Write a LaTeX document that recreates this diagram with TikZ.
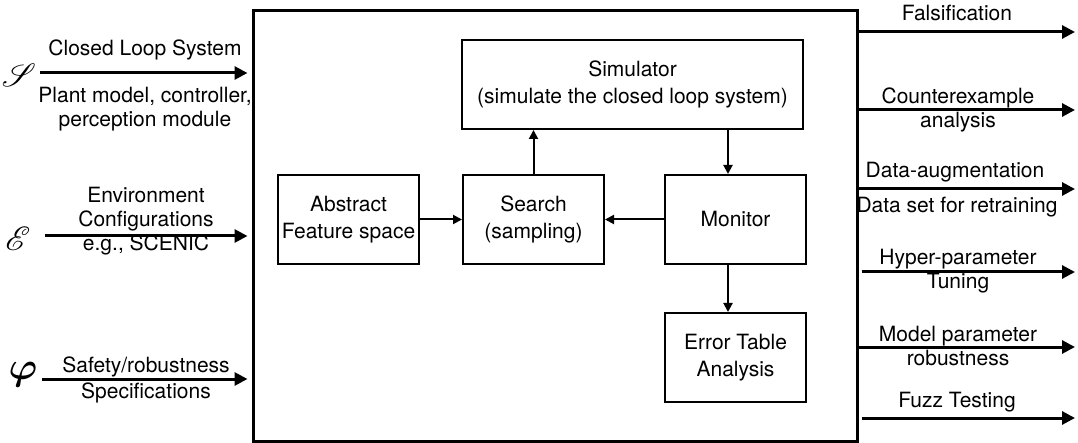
\documentclass[tikz,border=0pt]{standalone}
\usepackage{fontspec}
\setmainfont{TeX Gyre Heros}
\usepackage{mathrsfs}
\usepackage{bm}
\usetikzlibrary{arrows.meta}
\begin{document}
\begin{tikzpicture}[x=1pt,y=-1pt,
  box/.style={draw, line width=2pt, inner sep=0pt, align=center, font=\fontsize{21}{26.5}\selectfont},
  lbl/.style={align=center, inner sep=0pt, font=\fontsize{21}{24}\selectfont},
  sym/.style={inner sep=0pt, font=\fontsize{24.88}{26}\selectfont},
  bigarrow/.style={line width=3pt, -{Triangle[length=13pt,width=13pt]}},
  smallarrow/.style={line width=2pt, -{Triangle[length=9pt,width=9pt]}}]
\useasboundingbox (0,0) rectangle (1078,443);
\node[draw, line width=3pt, minimum width=604pt, minimum height=430pt, inner sep=0pt] (main) at (555,226) {};
% inner boxes
\node[box, minimum width=341pt, minimum height=89pt] (sim) at (632.5,84.5) {Simulator\\(simulate the closed loop system)};
\node[box, minimum width=141pt, minimum height=89pt] (abs) at (348.5,219.5) {Abstract\\Feature space};
\node[box, minimum width=141pt, minimum height=89pt] (srch) at (533.5,219.5) {Search\\(sampling)};
\node[box, minimum width=141pt, minimum height=89pt] (mon) at (735.5,219.5) {Monitor};
\node[box, minimum width=141pt, minimum height=89pt] (err) at (735.5,357.5) {Error Table\\Analysis};
% inner arrows
\draw[smallarrow] (abs.east) -- (srch.west);
\draw[smallarrow] (mon.west) -- (srch.east);
\draw[smallarrow] (srch.north) -- (sim.south -| srch.north);
\coordinate (mtop) at ([xshift=-7.5pt]mon.north);
\coordinate (mbot) at ([xshift=-7.5pt]mon.south);
\draw[smallarrow] (sim.south -| mtop) -- (mtop);
\draw[smallarrow] (mbot) -- (err.north -| mbot);
% left inputs
\node[sym] (S) at (19,75) {\scalebox{1.3}{$\mathscr{S}$}};
\node[sym] (E) at (18,239) {\scalebox{1.35}{$\mathscr{E}$}};
\node[sym] (phi) at (23,375) {\scalebox{1.55}{$\bm{\varphi}$}};
\coordinate (sS) at (40,73);
\coordinate (sE) at (45,236);
\coordinate (sP) at (42,379);
\draw[bigarrow, shorten >=4pt] (sS) -- (sS -| main.west);
\draw[bigarrow, shorten >=4pt] (sE) -- (sE -| main.west);
\draw[bigarrow, shorten >=4pt] (sP) -- (sP -| main.west);
\node[lbl] (l1) at (145,50) {Closed Loop System};
\node[lbl] (l2) at (145,109) {Plant model, controller,\\perception module};
\node[lbl] (l3) at (146,221) {Environment\\Configurations\\e.g., SCENIC};
\node[lbl] (l4) at (146,367) {Safety/robustness};
\node[lbl] (l5) at (146,393) {Specifications};
% right outputs
\coordinate (o1) at (1075,32);
\coordinate (o2) at (1075,110);
\coordinate (o3) at (1075,189);
\coordinate (o4) at (1075,272);
\coordinate (o5) at (1075,347);
\coordinate (o6) at (1075,418);
\draw[bigarrow] (o1 -| main.east) -- (o1);
\draw[bigarrow] (o2 -| main.east) -- (o2);
\draw[bigarrow] (o3 -| main.east) -- (o3);
\draw[bigarrow] ([xshift=3pt]o4 -| main.east) -- (o4);
\draw[bigarrow] (o5 -| main.east) -- (o5);
\draw[bigarrow] ([xshift=3pt]o6 -| main.east) -- (o6);
\node[lbl] (r1) at (957,13) {Falsification};
\node[lbl] (r2) at (958,110) {Counterexample\\analysis};
\node[lbl] (r3) at (955,172) {Data-augmentation};
\node[lbl] (r3b) at (957,207) {Data set for retraining};
\node[lbl] (r4) at (958,271) {Hyper-parameter\\Tuning};
\node[lbl] (r5) at (958,346) {Model parameter\\robustness};
\node[lbl] (r6) at (957,402) {Fuzz Testing};
\end{tikzpicture}
\end{document}
